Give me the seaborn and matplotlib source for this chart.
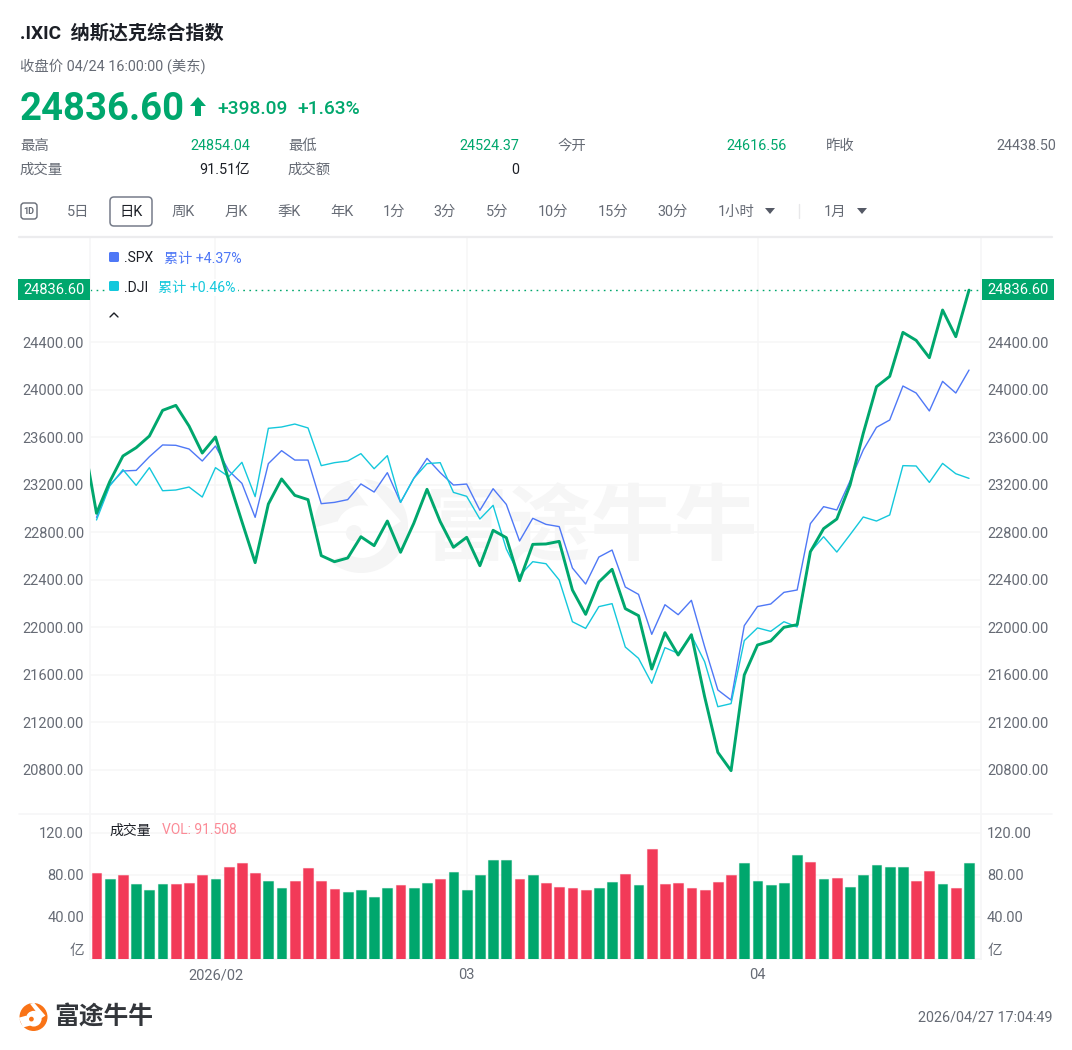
import numpy as np
import pandas as pd
import matplotlib
matplotlib.use("Agg")
import matplotlib.pyplot as plt
from matplotlib.patches import Circle, Polygon, FancyBboxPatch, Rectangle
import seaborn as sns

sns.set_theme(style="white")
plt.rcParams['font.family'] = ['Roboto', 'Noto Sans CJK SC', 'DejaVu Sans']

# index points, the IXIC series has one extra day left of the visible window
ixic = [23590, 22959, 23225, 23441, 23511, 23609, 23825, 23867, 23693, 23466,
        23601, 23239, 22889, 22544, 23037, 23248, 23110, 23074, 22603, 22552,
        22583, 22762, 22687, 22894, 22631, 22875, 23161, 22889, 22673, 22757,
        22518, 22816, 22754, 22392, 22698, 22701, 22723, 22314, 22109, 22381,
        22488, 22157, 22098, 21649, 21955, 21767, 21938, 21417, 20948, 20794,
        21599, 21851, 21885, 22000, 22022, 22636, 22830, 22911, 23197, 23632,
        24024, 24111, 24481, 24414, 24268, 24669, 24445, 24836.6]
spx = [22925, 23197, 23315, 23320, 23435, 23534, 23531, 23500, 23399, 23525,
       23318, 23211, 22925, 23377, 23486, 23407, 23407, 23040, 23051, 23074,
       23206, 23138, 23301, 23051, 23253, 23421, 23301, 23197, 23205, 22984,
       23166, 23034, 22726, 22917, 22866, 22847, 22499, 22364, 22591, 22650,
       22339, 22277, 21941, 22190, 22106, 22227, 21837, 21473, 21388, 22014,
       22175, 22196, 22294, 22314, 22872, 23015, 22987, 23231, 23492, 23682,
       23744, 24030, 23971, 23820, 24069, 23971, 24164]
dji = [22903, 23189, 23326, 23194, 23343, 23149, 23155, 23180, 23096, 23343,
       23267, 23388, 23099, 23674, 23685, 23710, 23677, 23360, 23385, 23399,
       23461, 23334, 23444, 23051, 23253, 23377, 23385, 23135, 23102, 22911,
       23026, 22659, 22434, 22552, 22535, 22398, 22047, 21991, 22174, 22199,
       21834, 21739, 21529, 21829, 21781, 21932, 21711, 21332, 21358, 21888,
       21995, 21966, 22047, 22003, 22636, 22762, 22633, 22779, 22928, 22894,
       22945, 23360, 23357, 23219, 23379, 23292, 23253]

volume = [81.3, 76.5, 79.4, 71.7, 66, 71.1, 71.1, 72.4, 79.4, 75.6,
          87.3, 91.1, 81.9, 74, 67.9, 74, 86.7, 74.6, 66.3, 63.2,
          65.4, 58.7, 67, 70.2, 67.6, 72.7, 75.6, 82.5, 65.4, 79.4,
          94.3, 94, 76.5, 79.4, 72, 68.9, 67.6, 65.4, 67.9, 73,
          80.6, 70.5, 104.8, 71.7, 72.7, 67.9, 65.1, 73, 79.4, 90.8,
          74.3, 70.8, 72, 98.7, 92, 75.6, 76.8, 68.3, 80.3, 89.5,
          87.9, 87.9, 74, 83.2, 71.4, 67, 91.5]
# r = red bar, g = green bar
vol_side = list("rgrgggrrrg" "rrrggrrrrg" "gggrggrggg" "ggrgrrrrgg"
                "rgrrrrrrrg" "ggggrgrggg" "ggrrgrg")

price_ticks = [20800, 21200, 21600, 22000, 22400, 22800, 23200, 23600, 24000, 24400]
vol_ticks = [40, 80, 120]
month_pos = [9, 28, 50]
month_labels = ["2026/02", "03", "04"]

GREEN = "#00a76d"
RED = "#f23a58"
BLUE = "#4f78f6"
CYAN = "#14c8dc"
GRID = "#f6f6f7"
GRAY = "#666b75"
DARK = "#1c1f26"

W, H = 1072, 1050
fig = plt.figure(figsize=(W / 100, H / 100), dpi=100, facecolor="white")


def box(x0, y0, x1, y1):
    return [x0 / W, 1 - y1 / H, (x1 - x0) / W, (y1 - y0) / H]


def pixel_axes(z):
    a = fig.add_axes([0, 0, 1, 1], zorder=z)
    a.set_xlim(0, W)
    a.set_ylim(H, 0)
    a.axis("off")
    return a


def logo(a, cx, cy, r, col, bg="white"):
    a.add_patch(Circle((cx, cy), r, fc=col, ec="none"))
    a.add_patch(Circle((cx + 0.02 * r, cy + 0.12 * r), 0.56 * r, fc=bg, ec="none"))
    a.add_patch(Polygon([(cx - 0.5 * r, cy - 0.1 * r), (cx - r * 1.05, cy + 0.05 * r),
                         (cx - 0.75 * r, cy + 0.75 * r), (cx - 0.2 * r, cy + 0.6 * r)], fc=bg, ec="none"))
    a.add_patch(Polygon([(cx - 0.25 * r, cy - 0.95 * r), (cx + 0.05 * r, cy - 1.02 * r),
                         (cx + 0.85 * r, cy - 0.1 * r), (cx + 0.55 * r, cy + 0.1 * r)], fc=bg, ec="none"))
    a.add_patch(Circle((cx - 0.15 * r, cy + 0.15 * r), 0.17 * r, fc=col, ec="none"))


back = pixel_axes(0)
ax = fig.add_axes(box(90, 238, 981, 814), zorder=1, facecolor="none")
ax_vol = fig.add_axes(box(90, 814, 981, 959), zorder=1, facecolor="none")
front = pixel_axes(2)

# watermark sits behind the chart
logo(back, 361, 526, 47, "#f5f5f5")
back.text(592, 532, "富途牛牛", fontsize=60, color="#f6f6f6", ha="center", va="center", fontweight="bold")

# main chart
days = np.arange(len(spx))
df_ixic = pd.DataFrame({"day": np.arange(-1, len(spx)), "value": ixic})
df_spx = pd.DataFrame({"day": days, "value": spx})
df_dji = pd.DataFrame({"day": days, "value": dji})

sns.lineplot(data=df_spx, x="day", y="value", color=BLUE, linewidth=1.0, ax=ax, zorder=3)
sns.lineplot(data=df_dji, x="day", y="value", color=CYAN, linewidth=1.0, ax=ax, zorder=3)
sns.lineplot(data=df_ixic, x="day", y="value", color=GREEN, linewidth=2.1, ax=ax, zorder=4)
ax.axhline(ixic[-1], color=GREEN, lw=1.0, ls=(0, (1.2, 3.2)), zorder=2, clip_on=False)

x_left = (90 - 96.5) / 13.22
x_right = (981 - 96.5) / 13.22
ax.set_xlim(x_left, x_right)
ax.set_ylim(20429.5, 25275)
ax.set_xticks(month_pos)
ax.set_yticks(price_ticks)
ax.set_yticklabels(["%.2f" % t for t in price_ticks])
ax.tick_params(axis="y", length=0, labelsize=10.5, labelcolor=GRAY, labelleft=True, labelright=True, pad=4.3)
ax.tick_params(axis="x", length=0, labelbottom=False)
ax.set_xlabel("")
ax.set_ylabel("")
ax.grid(True, color=GRID, lw=1.1)
ax.set_axisbelow(True)
for s in ax.spines.values():
    s.set_visible(False)
ax.spines["left"].set_visible(True)
ax.spines["right"].set_visible(True)
ax.spines["left"].set_color(GRID)
ax.spines["right"].set_color(GRID)

# volume chart
df_vol = pd.DataFrame({"day": days, "volume": volume, "side": vol_side})
sns.barplot(data=df_vol, x="day", y="volume", hue="side", palette={"r": RED, "g": GREEN},
            dodge=False, native_scale=True, width=0.74, saturation=1, legend=False, ax=ax_vol, zorder=3)
for p in ax_vol.patches:
    p.set_edgecolor((*p.get_facecolor()[:3], 0.45))
    p.set_linewidth(0.8)
ax_vol.set_xlim(x_left, x_right)
ax_vol.set_ylim(0, 137.8)
ax_vol.set_xticks(month_pos)
ax_vol.set_xticklabels(month_labels)
ax_vol.set_yticks(vol_ticks)
ax_vol.set_yticklabels(["%.2f" % t for t in vol_ticks])
ax_vol.tick_params(axis="y", length=0, labelsize=10.5, labelcolor=GRAY, labelleft=True, labelright=True, pad=4.3)
ax_vol.tick_params(axis="x", length=0, labelsize=10.5, labelcolor=GRAY, pad=6.5)
ax_vol.set_xlabel("")
ax_vol.set_ylabel("")
ax_vol.grid(True, color=GRID, lw=1.1)
ax_vol.set_axisbelow(True)
for s in ax_vol.spines.values():
    s.set_color(GRID)
ax_vol.spines["top"].set_visible(False)

# header
front.text(20, 33, ".IXIC  纳斯达克综合指数", fontsize=13.75, color=DARK, va="center", fontweight="bold")
front.text(20, 66, "收盘价 04/24 16:00:00 (美东)", fontsize=10.35, color=GRAY, va="center")
front.text(20, 110, "24836.60", fontsize=27.5, color=GREEN, va="center", fontweight="bold")
front.add_patch(Polygon([(198, 97), (206, 106), (201, 106), (201, 116), (195, 116), (195, 106), (190, 106)],
                        fc=GREEN, ec="none"))
front.text(217, 108.5, "+398.09", fontsize=13.8, color=GREEN, va="center", fontweight="medium")
front.text(297, 108.5, "+1.63%", fontsize=13.8, color=GREEN, va="center", fontweight="medium")

rows = [(146, 20, "最高", 250, "24854.04", GREEN), (146, 288, "最低", 519, "24524.37", GREEN),
        (146, 557, "今开", 787, "24616.56", GREEN), (146, 826, "昨收", 1056, "24438.50", GRAY),
        (170, 20, "成交量", 250, "91.51亿", DARK), (170, 288, "成交额", 519, "0", DARK)]
for y, x0, name, x1, val, col in rows:
    front.text(x0, y, name, fontsize=10.35, color=GRAY, va="center")
    front.text(x1, y, val, fontsize=10.35, color=col, va="center", ha="right")

# period toolbar
front.add_patch(FancyBboxPatch((23, 205), 12, 12, boxstyle="round,pad=2,rounding_size=3", fc="none", ec=GRAY, lw=1))
front.text(29, 211, "1D", fontsize=6.5, color=GRAY, ha="center", va="center", fontweight="bold")
front.add_patch(FancyBboxPatch((112, 199), 38, 25, boxstyle="round,pad=2,rounding_size=4", fc="none", ec="#767c8a", lw=1.1))
front.text(131, 212, "日K", fontsize=10.35, color=DARK, ha="center", va="center")
periods = [(78, "5日"), (183, "周K"), (236, "月K"), (289, "季K"), (342, "年K"), (394, "1分"), (445, "3分"),
           (497, "5分"), (553, "10分"), (613, "15分"), (673, "30分"), (736, "1小时"), (835, "1月")]
for x, name in periods:
    front.text(x, 212, name, fontsize=10.35, color=GRAY, ha="center", va="center")
for x in [770, 862]:
    front.add_patch(Polygon([(x - 5, 208), (x + 5, 208), (x, 214)], fc="#555a66", ec="none"))
front.plot([799, 799], [204, 218], color="#e8e8ea", lw=1)
front.plot([19, 1052], [237, 237], color="#ececee", lw=1.6)
front.plot([19, 1052], [814, 814], color=GRID, lw=1.2)

# compare legend
front.add_patch(FancyBboxPatch((110, 253), 8, 8, boxstyle="round,pad=1,rounding_size=1.5", fc=BLUE, ec="none"))
front.text(124, 258.5, ".SPX", fontsize=10, color=DARK, va="center")
front.text(164, 258.5, "累计 +4.37%", fontsize=10.2, color=BLUE, va="center")
front.add_patch(Rectangle((108, 279), 130, 17, fc="white", ec="none"))
front.add_patch(FancyBboxPatch((110, 282), 8, 8, boxstyle="round,pad=1,rounding_size=1.5", fc=CYAN, ec="none"))
front.text(124, 288, ".DJI", fontsize=10, color=DARK, va="center")
front.text(158, 288, "累计 +0.46%", fontsize=10.2, color=CYAN, va="center")
front.plot([110, 114, 118], [317, 313, 317], color=DARK, lw=1)

# price tags on both sides
for x0, x1 in [(18, 90), (982, 1054)]:
    front.add_patch(Rectangle((x0, 279), x1 - x0, 21, fc=GREEN, ec="none"))
    front.text((x0 + x1) / 2, 290.5, "24836.60", fontsize=10.5, color="white", ha="center", va="center")

front.text(109, 830.5, "成交量", fontsize=10, color=DARK, va="center")
front.text(162, 830.5, "VOL: 91.508", fontsize=10, color="#fb8a96", va="center")
front.text(84, 951, "亿", fontsize=10.5, color=GRAY, ha="right", va="center")
front.text(988, 951, "亿", fontsize=10.5, color=GRAY, ha="left", va="center")

# footer
logo(front, 33.5, 1017, 14, "#f97316")
front.text(54, 1018, "富途牛牛", fontsize=17.8, color="#33363b", va="center", fontweight="bold")
front.text(1052, 1018, "2026/04/27 17:04:49", fontsize=10.35, color=GRAY, ha="right", va="center")

fig.savefig("out.png", dpi=100, facecolor="white")
